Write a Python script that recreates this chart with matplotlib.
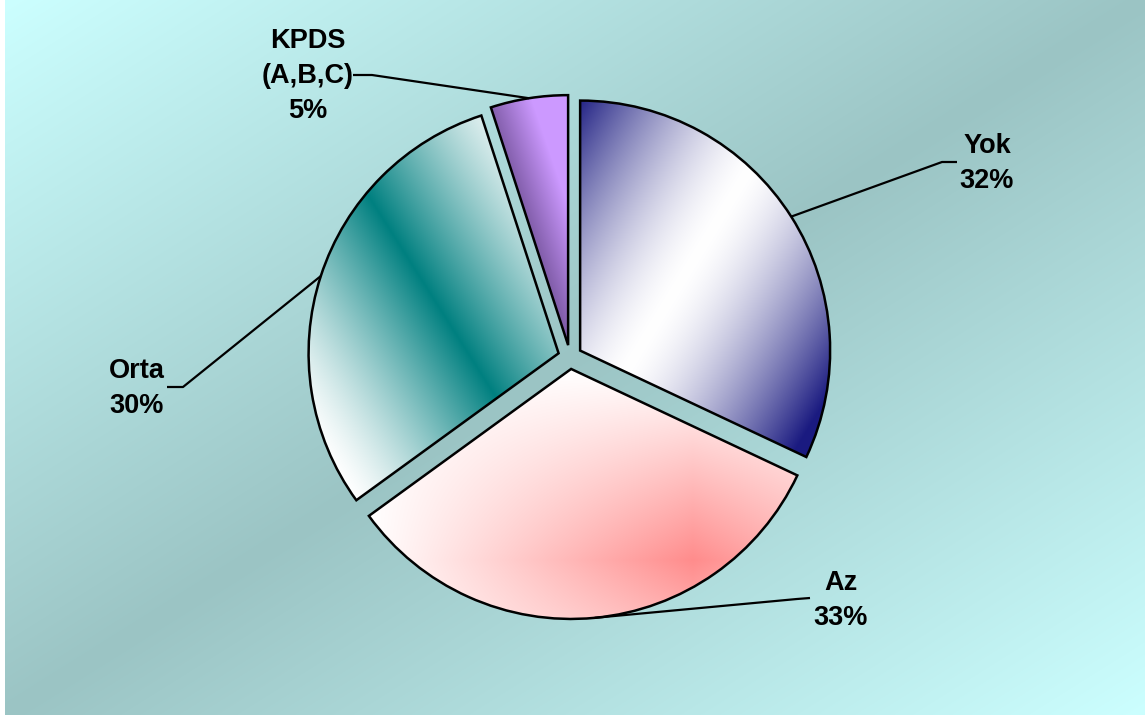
import numpy as np
import matplotlib.pyplot as plt

# data
categories = ['Yok', 'Az', 'Orta', 'KPDS\n(A,B,C)']
values = [32, 33, 30, 5]

# layout (image pixels): label centre x / last baseline y, leader elbow and end
label_pos = [(987, 188), (841, 625), (137, 413), (308, 118)]
leader_elbow = [(942, 162), (797, 599), (183, 387), (372, 75)]
leader_end = [(957, 162), (810, 598), (167, 387), (353, 75)]

W, H = 1145, 715
fig = plt.figure(figsize=(W / 100, H / 100), dpi=100)
ax = fig.add_axes([0, 0, 1, 1])

wedges, _ = ax.pie(values, startangle=90, counterclock=False, radius=250,
                   center=(570, H - 357), explode=[12] * len(values), frame=True,
                   wedgeprops=dict(facecolor='none', edgecolor='black', linewidth=1.8))

X, Y = np.meshgrid(np.arange(W) + 0.5, np.arange(H) + 0.5)


def blend(c0, c1, t):
    c0 = np.array(c0) / 255.
    c1 = np.array(c1) / 255.
    t = np.clip(t, 0, 1)[..., None]
    return c0 * (1 - t) + c1 * t


# background: light cyan corners, darker band along the other diagonal
t = ((X - 5) / (W - 5) + Y / H) / 2
bg = blend((204, 255, 255), (155, 196, 196), 1 - np.abs(2 * t - 1))
bg[:, :5] = 1.0
ax.imshow(bg, extent=(0, W, 0, H), origin='upper', zorder=0, interpolation='bilinear')

# gradient fills for the slices
d = (X - 700) * 0.85 + (Y - 250) * 0.52
yok_img = blend((255, 255, 255), (26, 26, 128), np.clip(np.abs(d) / 185, 0, 1) ** 1.5)
fx = np.clip(1 - np.abs(X - 693) / 323, 0, 1)
fy = np.clip(1 - np.abs(Y - 560) / 190, 0, 1)
az_img = blend((255, 255, 255), (255, 140, 140), fx * fy)
d = (X - 430) * 0.845 - (Y - 293) * 0.535
orta_img = blend((255, 255, 255), (0, 128, 128), np.clip(1 - np.abs(d) / 175, 0, 1) ** 1.3)
d = (X - 487) * 0.947 - (Y - 108) * 0.324
kpds_img = blend((125, 90, 165), (204, 153, 255), d / 45)

for w, img in zip(wedges, [yok_img, az_img, orta_img, kpds_img]):
    im = ax.imshow(img, extent=(0, W, 0, H), origin='upper', zorder=1,
                   interpolation='bilinear')
    im.set_clip_path(w)
    w.set_zorder(3)

# labels and leader lines
total = sum(values)
for w, name, v, (lx, ly), (ex, ey), (nx, ny) in zip(
        wedges, categories, values, label_pos, leader_elbow, leader_end):
    ang = np.deg2rad((w.theta1 + w.theta2) / 2)
    sx = w.center[0] + w.r * np.cos(ang)
    sy = w.center[1] + w.r * np.sin(ang)
    ax.plot([sx, ex, nx], [sy, H - ey, H - ny], color='black', lw=1.6, zorder=2,
            solid_capstyle='butt')
    ax.text(lx, H - ly, '{}\n{:.0f}%'.format(name, 100 * v / total),
            ha='center', va='baseline', multialignment='center',
            fontsize=19.5, fontweight='bold', family='Liberation Sans',
            linespacing=1.45, zorder=4)

ax.set_xlim(0, W)
ax.set_ylim(0, H)
ax.set_aspect('auto')
ax.axis('off')
fig.savefig('out.png', dpi=100, facecolor='white')
